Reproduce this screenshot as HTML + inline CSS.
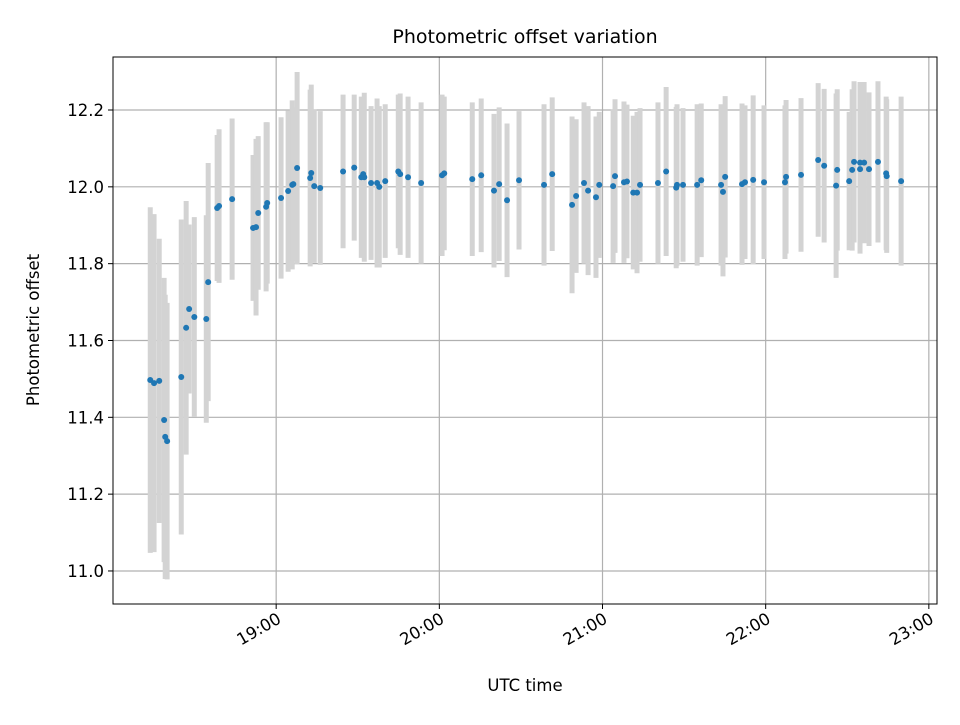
<!DOCTYPE html>
<html><head><meta charset="utf-8"><style>
body{margin:0;background:#fff;font-family:"Liberation Sans","DejaVu Sans",sans-serif}
</style></head><body>
<svg id="chart" width="960" height="720" xmlns="http://www.w3.org/2000/svg" font-family="DejaVu Sans, Liberation Sans, sans-serif">
<rect width="960" height="720" fill="#fff"/>
<text x="525" y="43" text-anchor="middle" font-size="19">Photometric offset variation</text>
<g id="grid"></g>
<g id="bars"></g>
<g id="pts"></g>
<rect x="113" y="57" width="824" height="547" fill="none" stroke="#000" stroke-width="1"/>
<g id="axes"></g>
<text x="525" y="691" text-anchor="middle" font-size="16.5">UTC time</text>
<text transform="translate(39,330) rotate(-90)" text-anchor="middle" font-size="16.5">Photometric offset</text>
</svg>
<script>
// minutes after 18:00 UTC
const times=[13.7,15.1,17.0,18.8,19.2,19.9,25.1,26.9,28.0,29.9,34.3,35.0,38.3,39.0,43.8,51.5,52.6,53.4,56.3,56.7,61.8,64.4,65.9,66.3,67.7,72.5,72.9,74.0,76.2,84.6,88.7,91.3,92.0,92.4,94.9,97.1,97.9,100.1,104.9,105.6,108.5,113.3,121.0,121.8,132.1,135.4,140.1,142.0,144.9,149.3,158.5,161.5,168.8,170.3,173.2,174.7,177.6,178.8,183.9,184.6,187.9,189.0,191.3,192.7,193.8,200.4,203.4,207.1,207.4,209.6,214.8,216.3,223.6,224.3,225.1,231.3,232.4,235.4,239.4,247.1,247.5,253.0,259.3,261.5,265.9,266.3,270.7,271.8,272.5,274.7,274.7,276.2,278.0,281.3,284.3,284.5,289.8];
const values=[11.497,11.489,11.495,11.393,11.349,11.338,11.505,11.633,11.682,11.661,11.656,11.752,11.945,11.950,11.968,11.893,11.895,11.932,11.948,11.958,11.971,11.989,12.005,12.007,12.049,12.023,12.036,12.002,11.997,12.040,12.050,12.025,12.033,12.025,12.010,12.010,12.000,12.015,12.040,12.033,12.025,12.010,12.030,12.035,12.020,12.030,11.990,12.007,11.965,12.017,12.005,12.033,11.953,11.976,12.010,11.990,11.973,12.005,12.002,12.028,12.012,12.014,11.985,11.985,12.005,12.010,12.040,11.998,12.005,12.005,12.005,12.017,12.005,11.987,12.026,12.007,12.012,12.018,12.012,12.012,12.026,12.031,12.070,12.055,12.003,12.044,12.015,12.044,12.065,12.046,12.063,12.063,12.046,12.065,12.035,12.028,12.015];
const errors=[0.45,0.44,0.37,0.37,0.37,0.36,0.41,0.33,0.22,0.26,0.27,0.31,0.19,0.20,0.21,0.19,0.23,0.20,0.22,0.21,0.21,0.21,0.22,0.20,0.25,0.23,0.23,0.20,0.20,0.20,0.19,0.21,0.20,0.22,0.20,0.22,0.21,0.20,0.20,0.21,0.21,0.21,0.21,0.20,0.20,0.20,0.20,0.20,0.20,0.18,0.21,0.20,0.23,0.20,0.21,0.22,0.21,0.19,0.20,0.20,0.21,0.20,0.20,0.21,0.20,0.21,0.22,0.21,0.21,0.20,0.21,0.20,0.21,0.22,0.21,0.21,0.20,0.22,0.20,0.20,0.20,0.20,0.20,0.20,0.24,0.21,0.18,0.21,0.21,0.22,0.21,0.21,0.20,0.21,0.20,0.20,0.22];
const yTicks=[11.0,11.2,11.4,11.6,11.8,12.0,12.2];
const yTickLabels=["11.0","11.2","11.4","11.6","11.8","12.0","12.2"];
const xTicks=[60,120,180,240,300];
const xTickLabels=["19:00","20:00","21:00","22:00","23:00"];

const X0=113,X1=937,Y0=57,Y1=604,xmin=0,xmax=303,ymin=10.914,ymax=12.338;
const sx=v=>X0+(v-xmin)/(xmax-xmin)*(X1-X0);
const sy=v=>Y1-(v-ymin)/(ymax-ymin)*(Y1-Y0);
const NS="http://www.w3.org/2000/svg";
function mk(tag,attrs,parent){const e=document.createElementNS(NS,tag);for(const k in attrs)e.setAttribute(k,attrs[k]);document.getElementById(parent).appendChild(e);return e;}
yTicks.forEach((t,i)=>{
  const g=mk('line',{x1:X0,x2:X1,y1:sy(t),y2:sy(t),stroke:'#b0b0b0','stroke-width':1.2},'grid');
  
  
  const tk=mk('line',{x1:X0-5,x2:X0,y1:sy(t),y2:sy(t),stroke:'#000'},'axes');
  
  
  const l=mk('text',{x:X0-9,y:sy(t)+6,'text-anchor':'end','font-size':16.5},'axes');
  l.textContent=yTickLabels[i];
  
  
});
xTicks.forEach((t,i)=>{
  const g=mk('line',{x1:sx(t),x2:sx(t),y1:Y0,y2:Y1,stroke:'#b0b0b0','stroke-width':1.2},'grid');
  
  
  const tk=mk('line',{x1:sx(t),x2:sx(t),y1:Y1,y2:Y1+5,stroke:'#000'},'axes');
  
  
  const l=mk('text',{x:0,y:0,'text-anchor':'end','font-size':16.5,transform:`translate(${sx(t)+6},${Y1+18}) rotate(-30)`},'axes');
  l.textContent=xTickLabels[i];
  
  
});
times.forEach((t,i)=>{
  const b=mk('line',{x1:sx(t),x2:sx(t),y1:sy(values[i]+errors[i]),y2:sy(values[i]-errors[i]),stroke:'#d3d3d3','stroke-width':5},'bars');
  
  
});
times.forEach((t,i)=>{
  const c=mk('circle',{cx:sx(t),cy:sy(values[i]),r:3,fill:'#1f77b4'},'pts');
  
  
});
</script>
</body></html>
